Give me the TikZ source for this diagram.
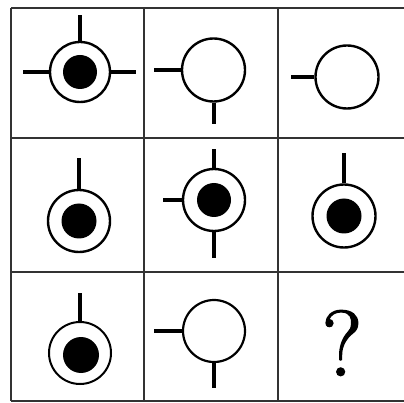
\documentclass[tikz,border=0pt]{standalone}
\usepackage{fontspec}
\newfontfamily\qfont[FakeBold=1.6]{Latin Modern Roman}
\begin{document}
\begin{tikzpicture}[x=1pt,y=-1pt,
  ring/.style={circle,draw=black,line width=2.4pt,inner sep=0pt,minimum size=#1},
  ring/.default=62pt,
  dot/.style={circle,fill=black,inner sep=0pt,minimum size=#1},
  dot/.default=35pt,
  stub/.style={line width=4pt},
  gridline/.style={line width=1.6pt,draw=black!80}]
\useasboundingbox (0,0) rectangle (404,403);
\fill[white] (0,0) rectangle (404,403);
% grid
\foreach \x in {11,144,278} \draw[gridline] (\x,8) -- (\x,401);
\foreach \y in {8,138,272,401} \draw[gridline] (11,\y) -- (404,\y);
% cell 1,1
\node[ring=60pt] (c11) at (80,72) {};
\node[dot=34pt] (d11) at (80,72) {};
\coordinate (t11) at (80,15);
\coordinate (l11) at (23,72);
\coordinate (r11) at (136,72);
\draw[stub] (c11.north) -- (t11);
\draw[stub] (c11.west) -- (l11);
\draw[stub] (c11.east) -- (r11);
% cell 1,2
\node[ring=63pt] (c12) at (213.5,70) {};
\coordinate (l12) at (154,70);
\coordinate (b12) at (213.5,124);
\draw[stub] (c12.west) -- (l12);
\draw[stub] (c12.south) -- (b12);
% cell 1,3
\node[ring=63pt] (c13) at (347,77) {};
\coordinate (l13) at (291,77);
\draw[stub] (c13.west) -- (l13);
% cell 2,1
\node[ring=62pt] (c21) at (79,221) {};
\node[dot] (d21) at (79,221) {};
\coordinate (t21) at (79,158);
\draw[stub] (c21.north) -- (t21);
% cell 2,2
\node[ring=62pt] (c22) at (214,200) {};
\node[dot=34pt] (d22) at (214,200) {};
\coordinate (t22) at (214,149);
\coordinate (l22) at (163,200);
\coordinate (b22) at (214,258);
\draw[stub] (c22.north) -- (t22);
\draw[stub] (c22.west) -- (l22);
\draw[stub] (c22.south) -- (b22);
% cell 2,3
\node[ring=63pt] (c23) at (344,216) {};
\node[dot] (d23) at (344,216) {};
\coordinate (t23) at (344,153);
\draw[stub] (c23.north) -- (t23);
% cell 3,1
\node[ring=62pt,line width=2pt] (c31) at (80,353) {};
\node[dot=36pt] (d31) at (81,355) {};
\coordinate (t31) at (80,293);
\draw[stub,line width=3.2pt] (c31.north) -- (t31);
% cell 3,2
\node[ring=62pt,line width=2.2pt] (c32) at (214,331) {};
\coordinate (l32) at (154,331);
\coordinate (b32) at (214,388);
\draw[stub] (c32.west) -- (l32);
\draw[stub] (c32.south) -- (b32);
% cell 3,3
\node[font=\qfont\fontsize{93}{93}\selectfont,inner sep=0pt] (q) at (342,343) {?};
\end{tikzpicture}
\end{document}
